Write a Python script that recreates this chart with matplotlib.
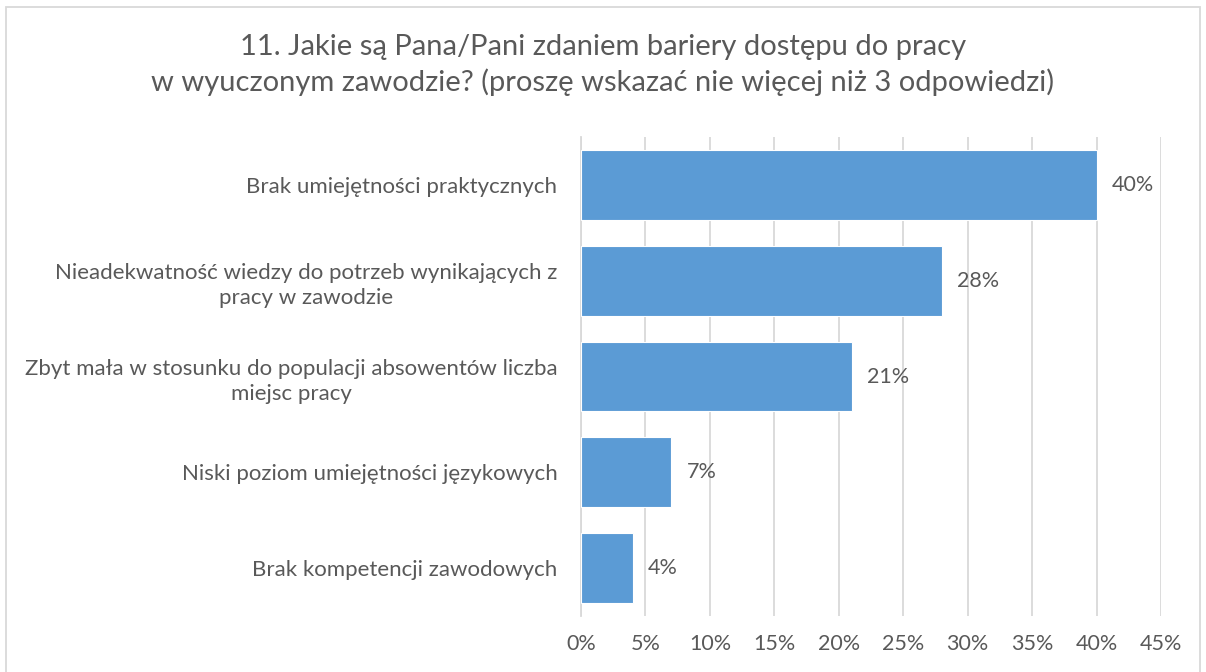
import matplotlib.pyplot as plt
from matplotlib.patches import Rectangle

categories = [
    "Brak umiejętności praktycznych",
    "Nieadekwatność wiedzy do potrzeb wynikających z\npracy w zawodzie",
    "Zbyt mała w stosunku do populacji absowentów liczba\nmiejsc pracy",
    "Niski poziom umiejętności językowych",
    "Brak kompetencji zawodowych",
]
values = [40, 28, 21, 7, 4]
xticks = [0, 5, 10, 15, 20, 25, 30, 35, 40, 45]

plt.rcParams['font.family'] = ['Lato', 'DejaVu Sans']
text_color = '#595959'
bar_color = '#5B9BD5'

fig = plt.figure(figsize=(12.06, 6.72), dpi=100)
ax = fig.add_axes([0.4818, 0.0833, 0.4809, 0.7128])

ypos = list(range(len(categories)))
ax.barh(ypos, values, height=0.73, color=bar_color, edgecolor='white', linewidth=0.8, zorder=3)
ax.set_ylim(len(categories) - 0.5, -0.5)
ax.set_xlim(0, 45)

ax.set_xticks(xticks)
ax.set_xticklabels([f"{t}%" for t in xticks], fontsize=15.5, color=text_color)
ax.set_yticks(ypos)
ax.set_yticklabels(categories, fontsize=16, color=text_color, multialignment='center',
                   linespacing=1.35)
ax.tick_params(axis='both', length=0)
ax.tick_params(axis='x', pad=13)
ax.tick_params(axis='y', pad=17)

ax.grid(axis='x', color='#D9D9D9', linewidth=1.3, zorder=0)
for s in ['top', 'right', 'bottom']:
    ax.spines[s].set_visible(False)
ax.spines['left'].set_color('#D9D9D9')
ax.spines['left'].set_linewidth(1.3)

for y, v in zip(ypos, values):
    ax.annotate(f"{v}%", xy=(v, y), xytext=(11, 0), textcoords='offset points',
                va='center', ha='left', fontsize=15.5, color=text_color)

fig.text(0.5, 0.903,
         "11. Jakie są Pana/Pani zdaniem bariery dostępu do pracy\nw wyuczonym zawodzie? (proszę wskazać nie więcej niż 3 odpowiedzi)",
         ha='center', va='center', fontsize=21, color=text_color, linespacing=1.38)

fig.patches.append(Rectangle((0.005, -0.01), 0.99, 1.0, transform=fig.transFigure,
                             fill=False, edgecolor='#D9D9D9', linewidth=1.3))

fig.savefig('out.png', dpi=100)
